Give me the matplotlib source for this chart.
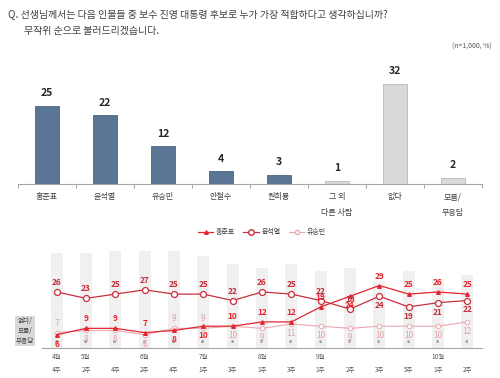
import numpy as np
import matplotlib
matplotlib.use("Agg")
import matplotlib.pyplot as plt
from matplotlib.lines import Line2D

plt.rcParams['font.family'] = ['Noto Sans CJK KR', 'DejaVu Sans']

# top chart: current week
candidates = ['홍준표', '윤석열', '유승민', '안철수', '원희룡', '그 외\n다른 사람', '없다', '모름/\n무응답']
support = [25, 22, 12, 4, 3, 1, 32, 2]

# bottom chart: trend
months = ['4월', '5월', '', '6월', '', '7월', '', '8월', '', '9월', '', '', '', '10월', '']
weeks = ['4주', '2주', '4주', '2주', '4주', '1주', '3주', '1주', '3주', '1주', '2주', '3주', '5주', '1주', '2주']
hong = [6, 9, 9, 7, 8, 10, 10, 12, 12, 19, 24, 29, 25, 26, 25]
yoon = [26, 23, 25, 27, 25, 25, 22, 26, 25, 22, 18, 24, 19, 21, 22]
yoo = [7, 8, 8, 6, 9, 9, 10, 9, 11, 10, 9, 10, 10, 10, 12]
no_answer = [44, 44, 45, 45, 45, 43, 39, 37, 39, 36, 37, 31, 36, 32, 34]

# label above (1) / below (-1)
hong_side = [-1, 1, 1, 1, -1, -1, 1, 1, 1, 1, -1, 1, 1, 1, 1]
yoon_side = [1] * 11 + [-1] * 4
yoo_side = [1, -1, -1, -1, 1, 1, -1, -1, -1, -1, -1, -1, -1, -1, -1]

W, H = 500, 378
fig = plt.figure(figsize=(5, 3.78), dpi=100)


def box(x0, y0, x1, y1):
    # pixel box (top-left origin) -> figure fraction
    return [x0 / W, 1 - y1 / H, (x1 - x0) / W, (y1 - y0) / H]


fig.text(8 / W, 1 - 15 / H, 'Q. 선생님께서는 다음 인물들 중 보수 진영 대통령 후보로 누가 가장 적합하다고 생각하십니까?',
         fontsize=7.2, color='#404040', va='center')
fig.text(24 / W, 1 - 31 / H, '무작위 순으로 불러드리겠습니다.', fontsize=7.2, color='#404040', va='center')
fig.text(492 / W, 1 - 47 / H, '(n=1,000, %)', fontsize=5, color='#595959', va='center', ha='right')

# ---- bar chart ----
ax = fig.add_axes(box(18, 70, 482, 184))
x = np.arange(len(candidates))
colors = ['#5b7594'] * 5 + ['#d9d9d9'] * 3
edges = ['#4d6582'] * 5 + ['#b8b8b8'] * 3
ax.bar(x, support, width=0.4, color=colors, edgecolor=edges, linewidth=0.6)
for xi, v in zip(x, support):
    ax.text(xi, v + 2.4, str(v), ha='center', va='bottom', fontsize=7.5, fontweight='bold', color='#262626')
ax.set_xlim(-0.5, len(candidates) - 0.5)
ax.set_ylim(0, 114 / 3.13)
ax.set_yticks([])
ax.set_xticks(x)
ax.set_xticklabels(candidates, fontsize=5.8, color='#404040', linespacing=1.9)
ax.set_xticks(np.arange(-0.5, len(candidates)), minor=True)
ax.tick_params(axis='x', which='major', length=0, pad=6)
ax.tick_params(axis='x', which='minor', length=3, color='#a6a6a6', width=0.7)
for s in ['top', 'left', 'right']:
    ax.spines[s].set_visible(False)
ax.spines['bottom'].set_color('#a6a6a6')
ax.spines['bottom'].set_linewidth(0.8)

# ---- line chart ----
red = '#e3262f'
dark = '#c8303d'
pink = '#eba8b0'
ax2 = fig.add_axes(box(42, 245, 482, 347.6))
t = np.arange(len(weeks))
ax2.bar(t, no_answer, width=0.42, color='#f0f0f0', zorder=0)
for ti, v in zip(t, no_answer):
    ax2.text(ti, 2.4, str(v), ha='center', va='center', fontsize=2.6, color='#404040', zorder=1)

ax2.plot(t, yoo, color=pink, lw=0.8, marker='o', ms=3.2, mfc='white', mec=pink, mew=0.7, zorder=2)
ax2.plot(t, hong, color=red, lw=0.9, marker='^', ms=2.6, mfc=red, mec=red, zorder=3)
ax2.plot(t, yoon, color=dark, lw=0.9, marker='o', ms=4.3, mfc='white', mec=dark, mew=0.9, zorder=4)


def labels(vals, sides, color, weight, size):
    for ti, v, s in zip(t, vals, sides):
        ax2.annotate(str(v), (ti, v), xytext=(0, 6.8 * s), textcoords='offset points',
                     ha='center', va='center', fontsize=size, fontweight=weight, color=color, zorder=5)


labels(yoo, yoo_side, '#e4a3aa', 'normal', 6)
labels(hong, hong_side, '#e8242c', 'bold', 6)
labels(yoon, yoon_side, '#c22f3b', 'bold', 6)

ax2.set_xlim(-0.5, len(weeks) - 0.5)
ax2.set_ylim(0, 102.6 / 2.14)
ax2.set_yticks([])
ax2.set_xticks(t)
ax2.set_xticklabels([m + '\n' + w for m, w in zip(months, weeks)], fontsize=4.6, color='#595959', linespacing=1.75)
ax2.tick_params(axis='x', length=0, pad=4)
for s in ['top', 'left', 'right']:
    ax2.spines[s].set_visible(False)
ax2.spines['bottom'].set_color('#a6a6a6')
ax2.spines['bottom'].set_linewidth(0.8)

fig.text(25 / W, 1 - 331 / H, '없다/\n모름/\n무응답', fontsize=4.8, color='#404040', ha='center', va='center',
         linespacing=1.3, bbox=dict(boxstyle='square,pad=0.15', fc='#d9d9d9', ec='none'))

handles = [
    Line2D([], [], color=red, lw=0.9, marker='^', ms=2.6, mfc=red, mec=red),
    Line2D([], [], color=dark, lw=0.9, marker='o', ms=4, mfc='white', mec=dark),
    Line2D([], [], color=pink, lw=0.8, marker='o', ms=3, mfc='white', mec=pink),
]
fig.legend(handles, ['홍준표', '윤석열', '유승민'], loc='center', bbox_to_anchor=(262 / W, 1 - 232 / H),
           ncol=3, frameon=False, fontsize=5, handlelength=2.2, columnspacing=1.2, handletextpad=0.4,
           labelcolor='#404040')

fig.savefig('out.png', dpi=100)
